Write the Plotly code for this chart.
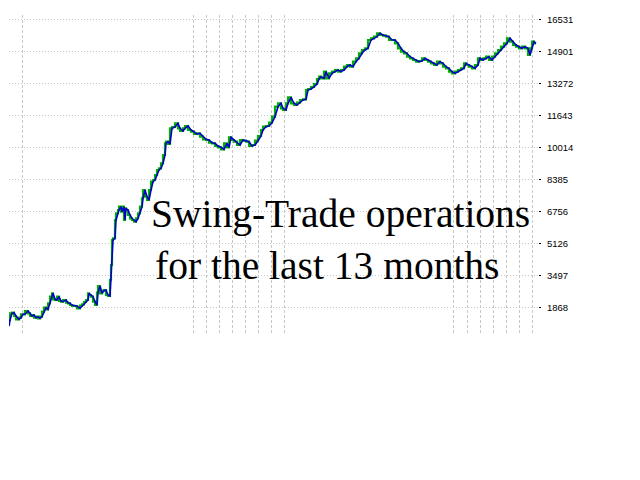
import plotly.graph_objects as go

# bar index (time) and equity values
day = [0, 1, 3, 5, 7, 10, 12, 14, 16, 19, 21, 23, 25, 27, 29, 31, 33, 35, 37, 39,
       41, 43, 44, 46, 48, 50, 52, 54, 57, 59, 61, 63, 66, 68, 71, 73, 75, 77, 79, 80,
       82, 84, 86, 88, 89, 91, 93, 95, 97, 99, 101, 102, 103, 104, 106, 107, 109, 110, 112, 113,
       115, 116, 117, 119, 121, 123, 125, 127, 129, 131, 133, 134, 136, 138, 140, 142, 144, 146, 148, 150,
       152, 154, 156, 157, 159, 161, 163, 166, 169, 171, 174, 176, 179, 182, 185, 188, 191, 194, 197, 200,
       203, 206, 209, 212, 215, 218, 220, 222, 225, 228, 231, 234, 237, 240, 243, 246, 249, 252, 254, 257,
       260, 263, 266, 269, 272, 274, 277, 279, 282, 285, 288, 291, 294, 297, 299, 302, 305, 308, 310, 312,
       315, 317, 320, 323, 326, 329, 332, 335, 338, 341, 344, 347, 350, 353, 356, 359, 362, 365, 368, 371,
       374, 377, 380, 383, 386, 389, 392, 395, 398, 401, 404, 407, 410, 413, 416, 419, 422, 425, 428, 431,
       434, 437, 440, 443, 446, 449, 452, 455, 457, 460, 463, 466, 469, 471, 474, 477, 480, 483, 486, 489,
       492, 495, 498, 501, 504, 507, 510, 513, 516, 519, 521, 523, 525, 527]
equity = [916, 1221, 1562, 1593, 1425, 1257, 1338, 1512, 1512, 1680, 1562, 1425, 1476, 1338, 1389, 1308, 1389, 1644, 1848, 1766,
          2072, 2408, 2581, 2275, 2240, 2408, 2189, 2153, 2240, 2102, 2072, 1985, 1934, 1934, 1817, 1949, 2021, 2138, 2240, 2581,
          2494, 2408, 2153, 1985, 2611, 2953, 2581, 2713, 2749, 2494, 2443, 3258, 4022, 5295, 5381, 6313, 6654, 6823, 6991, 6736,
          6991, 6313, 6909, 6823, 6568, 6400, 6313, 6227, 6400, 6654, 6991, 7418, 7841, 7500, 7332, 7841, 8264, 8350, 8605, 8859,
          8946, 9200, 9623, 10219, 10300, 10183, 10983, 11049, 11237, 10983, 10845, 10983, 11100, 10896, 10810, 10692, 10728, 10555, 10423, 10387,
          10249, 10219, 10081, 10015, 9913, 10219, 10015, 10524, 10387, 10300, 10132, 10387, 10351, 10300, 10081, 10132, 10351, 10591, 10896, 11064,
          11100, 11268, 11573, 12083, 12256, 12001, 11915, 12256, 12561, 12256, 12169, 12286, 12424, 12459, 12933, 12984, 13086, 13238, 13493, 13610,
          13529, 13865, 13529, 13783, 13865, 13951, 13865, 13951, 14119, 14206, 14119, 14374, 14547, 14802, 14970, 15056, 15479, 15565, 15647, 15820,
          15733, 15698, 15647, 15479, 15479, 15311, 15056, 14883, 14802, 14629, 14547, 14461, 14374, 14410, 14547, 14461, 14374, 14292, 14206, 14374,
          14292, 14119, 14038, 13865, 13783, 13865, 13951, 14038, 14292, 14206, 14119, 14038, 14206, 14547, 14461, 14547, 14629, 14461, 14629, 14802,
          14970, 15138, 15311, 15565, 15392, 15224, 15138, 15056, 15138, 15056, 14715, 15056, 15392, 15311]

y_ticks = [1868, 3497, 5126, 6756, 8385, 10014, 11643, 13272, 14901, 16531]
y_tick_text = ["1868", "3497", "5126", "6756", "8385", "10014", "11643", "13272", "14901", "16531"]
week_grid = [13, 184, 197, 210, 223, 236, 249, 262, 275, 444, 458, 471, 484, 497, 510, 523]

fig = go.Figure()
fig.add_trace(go.Scatter(x=day, y=equity, mode="lines", line=dict(color="#00b000", width=2.2, shape="vh"),
                         hoverinfo="skip"))
fig.add_trace(go.Scatter(x=day, y=equity, mode="lines", line=dict(color="#0000c8", width=1.6)))

fig.add_annotation(text="Swing-Trade operations", xref="paper", yref="paper", x=0.266, y=0.378,
                   xanchor="left", yanchor="middle", showarrow=False, borderpad=0,
                   font=dict(family="Liberation Serif", size=39.5, color="#000000"))
fig.add_annotation(text="for the last 13 months", xref="paper", yref="paper", x=0.274, y=0.216,
                   xanchor="left", yanchor="middle", showarrow=False, borderpad=0,
                   font=dict(family="Liberation Serif", size=39.5, color="#000000"))

fig.update_layout(
    width=632, height=472,
    margin=dict(l=1, r=102, t=7, b=145),
    paper_bgcolor="white", plot_bgcolor="white",
    showlegend=False,
    xaxis=dict(range=[0, 529], tickmode="array", tickvals=week_grid, showticklabels=False,
               ticks="", showgrid=True, gridcolor="#c8c8c8", griddash="3px,2px", gridwidth=1,
               zeroline=False, showline=False, fixedrange=True),
    yaxis=dict(range=[458, 16752], side="right", tickmode="array", tickvals=y_ticks, ticktext=y_tick_text,
               ticks="outside", ticklen=2, tickcolor="#000000", tickwidth=1, ticklabelstandoff=4,
               tickfont=dict(family="Liberation Sans", size=9.5, color="#000000"),
               showgrid=True, gridcolor="#c8c8c8", griddash="1px,2px", gridwidth=1,
               zeroline=False, showline=False, fixedrange=True),
)

fig.write_html("out.html")
